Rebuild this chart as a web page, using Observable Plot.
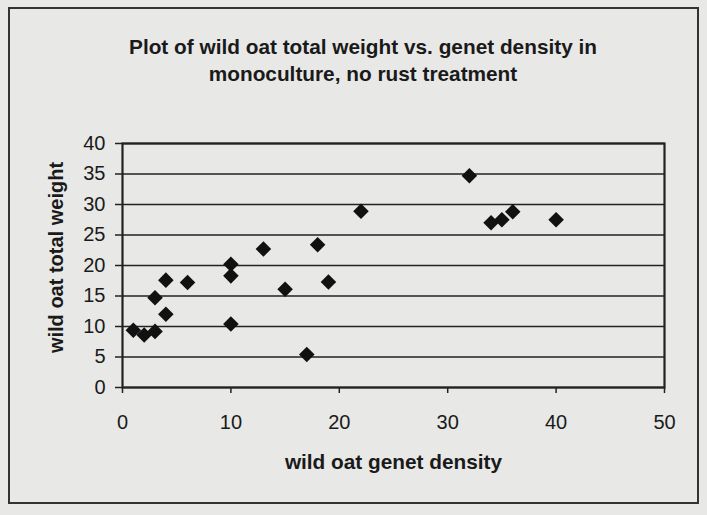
<!DOCTYPE html>
<html>
<head>
<meta charset="utf-8">
<script src="https://cdn.jsdelivr.net/npm/d3@7"></script>
<script src="https://cdn.jsdelivr.net/npm/@observablehq/plot@0.6"></script>
<style>
  html, body { margin: 0; padding: 0; background: #e8e8e6; }
  #wrap { position: relative; width: 707px; height: 515px; background: #e8e8e6; overflow: hidden; }
  #box { position: absolute; left: 8px; top: 7px; width: 691px; height: 497px; border: 2px solid #333; box-sizing: border-box; }
  #title { position: absolute; left: 0; top: 33px; width: 726px; text-align: center;
           font-family: "Liberation Sans", Arial, sans-serif; font-weight: bold; font-size: 20.8px;
           line-height: 27px; color: #1a1a1a; }
  #chart { position: absolute; left: 0; top: 0; }
</style>
</head>
<body>
<div id="wrap">
  <div id="box"></div>
  <div id="title">Plot of wild oat total weight vs. genet density in<br>monoculture, no rust treatment</div>
  <div id="chart"></div>
</div>
<script>
const titleText = "Plot of wild oat total weight vs. genet density in monoculture, no rust treatment";
const xLabel = "wild oat genet density";
const yLabel = "wild oat total weight";
const density = [1, 2, 3, 3, 4, 4, 6, 10, 10, 10, 13, 15, 17, 18, 19, 22, 32, 34, 35, 36, 40];
const weight  = [9.4, 8.6, 9.2, 14.7, 12.0, 17.6, 17.2, 20.2, 18.3, 10.4, 22.7, 16.1, 5.4, 23.4, 17.3, 28.9, 34.7, 27.0, 27.5, 28.8, 27.5];
const xTicks = [0, 10, 20, 30, 40, 50];
const yTicks = [0, 5, 10, 15, 20, 25, 30, 35, 40];

const points = density.map((d, i) => ({density: d, weight: weight[i]}));
const font = "'Liberation Sans', Arial, sans-serif";

const chart = Plot.plot({
  width: 707,
  height: 515,
  marginLeft: 122,
  marginRight: 43,
  marginTop: 143,
  marginBottom: 128,
  style: {background: "transparent", fontFamily: font, color: "#1a1a1a"},
  x: {domain: [0, 50], ticks: xTicks},
  y: {domain: [0, 40], ticks: yTicks},
  marks: [
    Plot.ruleY(yTicks, {stroke: "#222", strokeWidth: 1.3}),
    Plot.axisX(xTicks, {tickSize: 6, tickPadding: 21, fontSize: 20, label: null, stroke: "#222", strokeWidth: 1.5}),
    Plot.axisY(yTicks, {tickSize: 7, tickPadding: 10, fontSize: 20, label: null, stroke: "#222", strokeWidth: 1.5}),
    Plot.frame({stroke: "#222", strokeWidth: 2.2}),
    Plot.dot(points, {x: "density", y: "weight", symbol: "diamond2", r: 7, fill: "#111", stroke: "none"}),
    Plot.text([xLabel], {text: d => d, frameAnchor: "bottom", dy: 81, fontWeight: "bold", fontSize: 20.8}),
    Plot.text([yLabel], {text: d => d, frameAnchor: "left", textAnchor: "middle", dx: -66, dy: -8, rotate: -90, fontWeight: "bold", fontSize: 20})
  ]
});
document.getElementById("chart").appendChild(chart);
</script>
</body>
</html>
